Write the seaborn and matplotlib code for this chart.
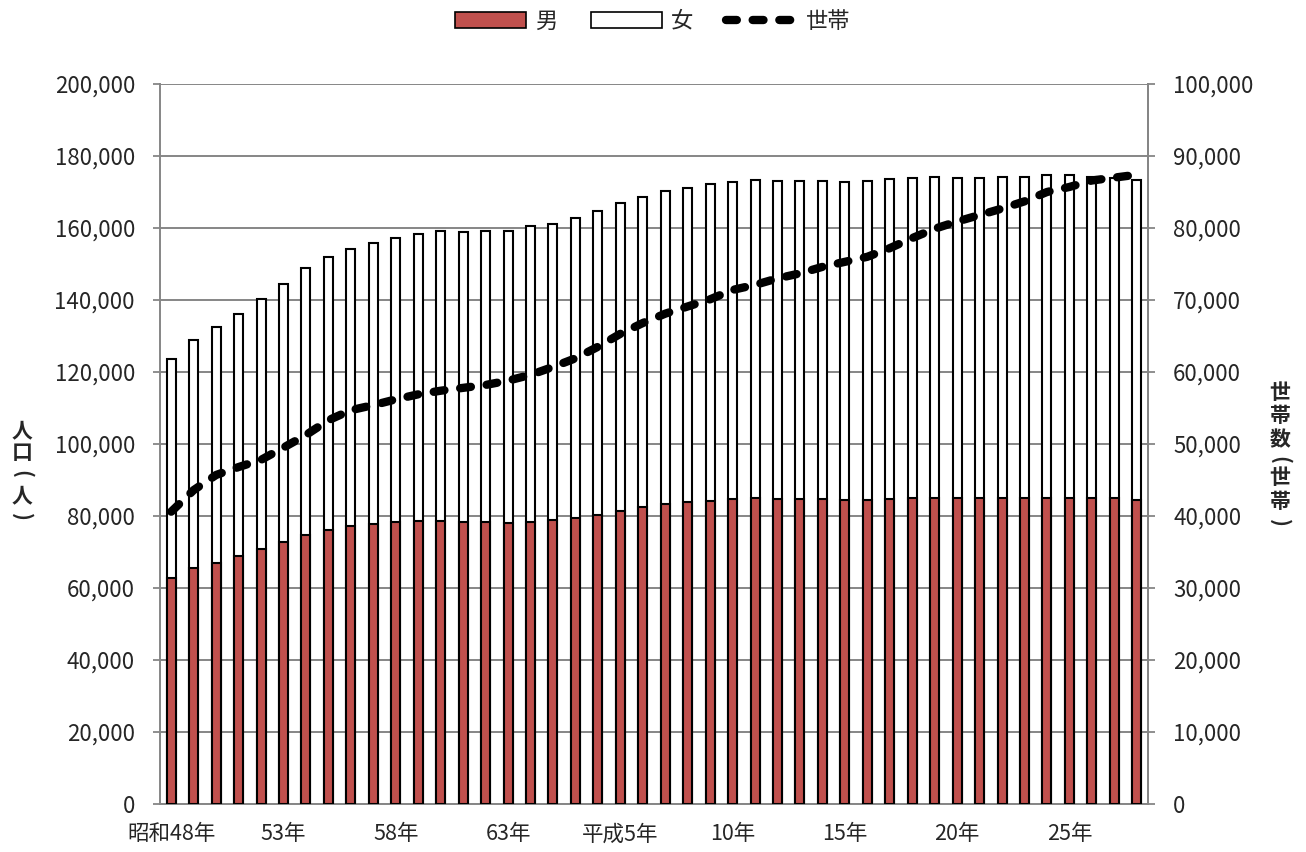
import matplotlib
matplotlib.use("Agg")
import matplotlib.pyplot as plt
import matplotlib.ticker as mticker
from matplotlib.patches import Patch
from matplotlib.lines import Line2D
import seaborn as sns
import numpy as np
import pandas as pd

# 昭和48年 (1973) ～ 平成28年 (2016)
years = list(range(1973, 2017))
tick_pos = [0, 5, 10, 15, 20, 25, 30, 35, 40]
tick_labels = ["昭和48年", "53年", "58年", "63年", "平成5年", "10年", "15年", "20年", "25年"]

# 人口（人）
male = [62700, 65500, 67000, 68800, 70700, 72900, 74600, 76100, 77100, 77800,
        78200, 78500, 78500, 78400, 78200, 78100, 78300, 78900, 79400, 80400,
        81500, 82400, 83200, 84000, 84300, 84700, 84900, 84800, 84700, 84600,
        84400, 84500, 84800, 84900, 85100, 84900, 84900, 84900, 84900, 85000,
        85100, 84900, 84900, 84400]
female = [60800, 63400, 65500, 67300, 69600, 71500, 74300, 75900, 77100, 78000,
          79000, 79800, 80700, 80600, 81000, 81100, 82300, 82200, 83300, 84300,
          85500, 86200, 87000, 87200, 88000, 88100, 88400, 88300, 88400, 88500,
          88500, 88500, 88800, 88900, 89000, 89100, 89000, 89400, 89400, 89600,
          89500, 89400, 89000, 88900]
# 世帯数（世帯）
households = [40600, 43600, 45700, 46800, 47800, 49500, 51250, 53300, 54700, 55400,
              56200, 56900, 57400, 57800, 58200, 58800, 59600, 60700, 61900, 63500,
              65300, 66800, 68100, 69100, 70100, 71400, 72100, 73000, 73700, 74600,
              75300, 76000, 77200, 78600, 79900, 80900, 81800, 82700, 83700, 85000,
              85700, 86600, 87000, 87400]

df = pd.DataFrame({"year": [str(y) for y in years], "男": male, "女": female, "世帯": households})
df["total"] = df["男"] + df["女"]

sns.set_style("white")
plt.rcParams['font.family'] = ['Noto Sans CJK JP', 'DejaVu Sans']

fig = plt.figure(figsize=(13.06, 8.52), dpi=100)
ax = fig.add_axes([160 / 1306, 48 / 852, 988 / 1306, 720 / 852])

grey = "#868686"
red = "#C0504D"

# 積み上げ棒（女は男の上）
sns.barplot(data=df, x="year", y="total", color="white", edgecolor="black",
            linewidth=1.5, width=0.4, saturation=1, ax=ax, zorder=2)
sns.barplot(data=df, x="year", y="男", color=red, edgecolor="black",
            linewidth=1.5, width=0.4, saturation=1, ax=ax, zorder=3)

ax.set_ylim(0, 200000)
ax.set_xlim(-0.5, len(years) - 0.5)
ax.yaxis.set_major_locator(mticker.MultipleLocator(20000))
ax.yaxis.set_major_formatter(mticker.FuncFormatter(lambda v, p: f"{int(v):,}"))
ax.grid(axis="y", color=grey, linewidth=1.4)
ax.set_axisbelow(True)

ax.set_xticks(tick_pos)
ax.set_xticklabels(tick_labels)
ax.set_xticks(np.arange(-0.5, len(years), 1), minor=True)
ax.tick_params(axis="x", which="major", length=0, pad=14, labelsize=15.5)
ax.tick_params(axis="x", which="minor", length=6, width=1.3, color=grey, direction="out")
ax.tick_params(axis="y", length=5, width=1.3, color=grey, labelsize=16, pad=13)
ax.set_xlabel("")
ax.set_ylabel("")

for s in ["left", "bottom", "right"]:
    ax.spines[s].set_color(grey)
    ax.spines[s].set_linewidth(1.4)
ax.spines["top"].set_visible(False)

# 世帯数（右軸）
ax2 = ax.twinx()
sns.lineplot(x=np.arange(len(years)), y=df["世帯"], ax=ax2, color="black",
             linewidth=6, zorder=5)
ax2.lines[0].set_dashes((1.3, 1.9))
ax2.lines[0].set_dash_capstyle("round")
ax2.set_ylim(0, 100000)
ax2.yaxis.set_major_locator(mticker.MultipleLocator(10000))
ax2.yaxis.set_major_formatter(mticker.FuncFormatter(lambda v, p: f"{int(v):,}"))
ax2.tick_params(axis="y", length=5, width=1.3, color=grey, labelsize=16, pad=13)
ax2.set_ylabel("")
ax2.set_xlim(-0.5, len(years) - 0.5)
for s in ["left", "top", "bottom"]:
    ax2.spines[s].set_visible(False)
ax2.spines["right"].set_color(grey)
ax2.spines["right"].set_linewidth(1.4)


# 縦書きの軸タイトル（括弧は回転させる）
def vertical_label(x_px, y_px, chars):
    for ch, y in zip(chars, y_px):
        rot = -90 if ch in "()" else 0
        fig.text(x_px / 1306, 1 - y / 852, ch, ha="center", va="center",
                 fontsize=15, fontweight="bold", rotation=rot)


vertical_label(22, [431, 453, 474, 496, 517], "人口(人)")
vertical_label(1280, [393, 416, 440, 460, 478, 502, 523], "世帯数(世帯)")

handles = [Patch(facecolor=red, edgecolor="black", linewidth=1.2),
           Patch(facecolor="white", edgecolor="black", linewidth=1.2),
           Line2D([0], [0], color="black", linewidth=6, dashes=(1.3, 1.9),
                  dash_capstyle="round")]
fig.legend(handles, ["男", "女", "世帯"], loc="upper center",
           bbox_to_anchor=(0.5, 1.012), ncol=3, frameon=False, fontsize=16,
           handlelength=3.2, handleheight=0.75, columnspacing=1.5, handletextpad=0.4)

fig.savefig("out.png", dpi=100)
